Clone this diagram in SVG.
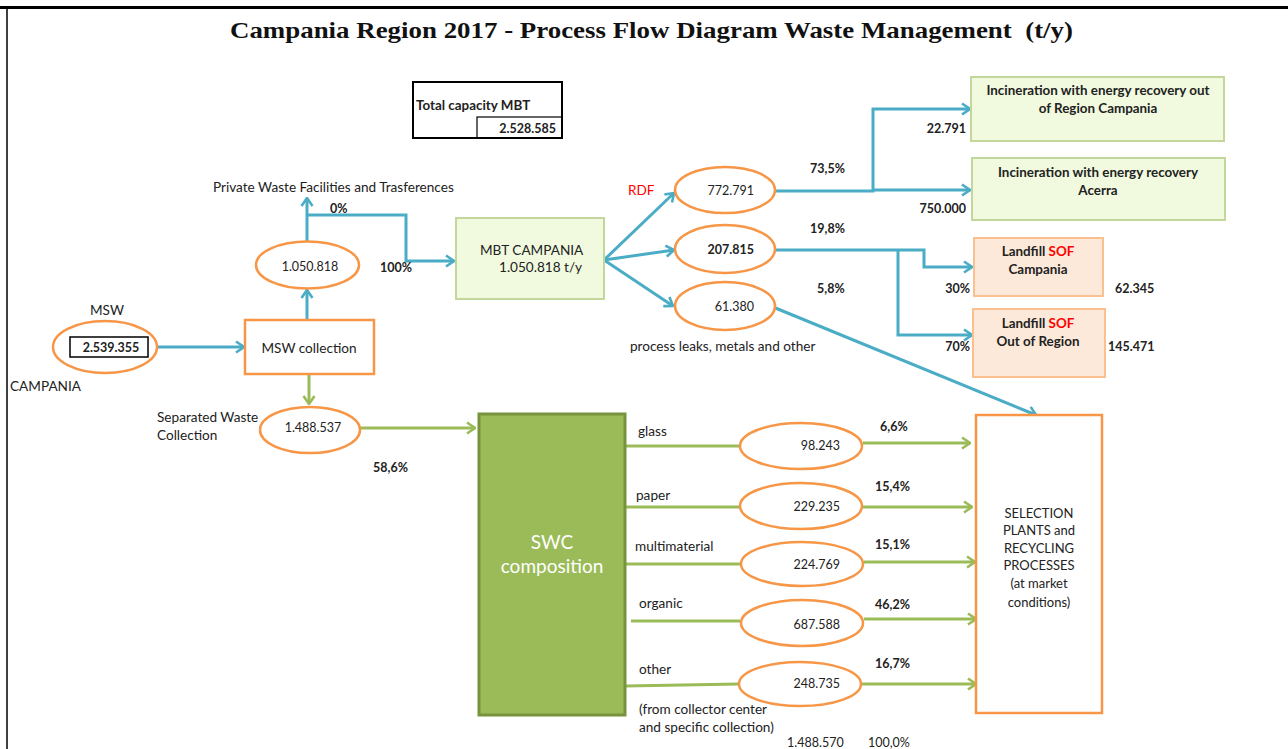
<svg xmlns="http://www.w3.org/2000/svg" width="1288" height="749" viewBox="0 0 1288 749">
<defs>
<style>
.t{font-family:Lato,"Liberation Sans",sans-serif;font-size:13.6px;fill:#222}
.n{font-family:Lato,"Liberation Sans",sans-serif;font-size:12.5px;fill:#222}
.b{font-family:Lato,"Liberation Sans",sans-serif;font-size:12.5px;font-weight:bold;fill:#222}
.bw{font-family:Lato,"Liberation Sans",sans-serif;font-size:13.4px;font-weight:bold;fill:#222}
.s{font-family:Lato,"Liberation Sans",sans-serif;font-size:13px;fill:#222}
.c{text-anchor:middle}
.e{text-anchor:end}
.ov{fill:#fff;stroke:#f79646;stroke-width:2.5}
.bl{fill:none;stroke:#4bacc6;stroke-width:3;marker-end:url(#mb)}
.gr{fill:none;stroke:#9bbb59;stroke-width:3;marker-end:url(#mg)}
.gn{fill:none;stroke:#9bbb59;stroke-width:3}
.inc{fill:#f1fadf;stroke:#c3d69b;stroke-width:2}
.lf{fill:#fde9d9;stroke:#fac090;stroke-width:2}
.red{fill:#ff0000}
</style>
<marker id="mb" viewBox="0 0 10 14" refX="9" refY="7" markerWidth="10" markerHeight="14" markerUnits="userSpaceOnUse" orient="auto">
<path d="M1,1.5 L9,7 L1,12.5" fill="none" stroke="#4bacc6" stroke-width="2.6"/>
</marker>
<marker id="mg" viewBox="0 0 10 14" refX="9" refY="7" markerWidth="10" markerHeight="14" markerUnits="userSpaceOnUse" orient="auto">
<path d="M1,1.5 L9,7 L1,12.5" fill="none" stroke="#9bbb59" stroke-width="2.6"/>
</marker>
</defs>
<rect x="0" y="0" width="1288" height="749" fill="#fff"/>
<line x1="0" y1="7.5" x2="1288" y2="7.5" stroke="#000" stroke-width="3"/>
<line x1="7" y1="7" x2="7" y2="749" stroke="#000" stroke-width="1.5"/>
<text x="230" y="38" font-family="'Liberation Serif',serif" font-size="24" font-weight="bold" fill="#111" textLength="843" lengthAdjust="spacingAndGlyphs" xml:space="preserve">Campania Region 2017 - Process Flow Diagram Waste Management  (t/y)</text>

<g id="connectors">
<path class="bl" d="M157,347 H244"/>
<path class="bl" d="M307,320 V290"/>
<path class="bl" d="M307,241 V198"/>
<path class="bl" d="M307,215 H406 V261 H454"/>
<path class="bl" d="M604,260 L674,193"/>
<path class="bl" d="M604,260 L674,250"/>
<path class="bl" d="M604,260 L673,306"/>
<path class="bl" d="M775,191 H873 V109 H970"/>
<path class="bl" d="M873,190 H970"/>
<path class="bl" d="M775,250 H924 V267 H972"/>
<path class="bl" d="M898,250 V335 H972"/>
<path class="bl" d="M773,307 L1036,415"/>
<path class="gr" d="M309,375 V404"/>
<path class="gr" d="M360,428 H475"/>
<path class="gn" d="M625,446 H740"/>
<path class="gr" d="M863,443 H970"/>
<path class="gn" d="M625,507 H740"/>
<path class="gr" d="M863,507 H972"/>
<path class="gn" d="M625,564 H740"/>
<path class="gr" d="M864,562 H975"/>
<path class="gn" d="M631,621 H740"/>
<path class="gr" d="M864,619 H976"/>
<path class="gn" d="M625,686 L739,684"/>
<path class="gr" d="M862,684 H976"/>
</g>

<g id="capacity">
<rect x="413" y="82" width="149" height="56" fill="#fff" stroke="#000" stroke-width="2"/>
<rect x="477" y="117" width="85" height="21" fill="none" stroke="#000" stroke-width="1.2"/>
<text class="bw" x="416" y="110">Total capacity MBT</text>
<text class="b e" x="556" y="133">2.528.585</text>
</g>

<g id="msw">
<ellipse class="ov" cx="105" cy="347" rx="52" ry="26"/>
<rect x="70" y="337" width="78" height="20" fill="#fff" stroke="#000" stroke-width="1.5"/>
<text class="b c" x="111" y="352">2.539.355</text>
<text class="t c" x="107" y="315">MSW</text>
<text class="t" x="10" y="391">CAMPANIA</text>
</g>

<g id="msw-collection">
<rect x="245" y="320" width="129" height="54" fill="#fff" stroke="#f79646" stroke-width="2.5"/>
<text class="t c" x="309" y="353">MSW collection</text>
</g>

<g id="residual">
<ellipse class="ov" cx="307.5" cy="265" rx="51.5" ry="23.5"/>
<text class="n c" x="310" y="271">1.050.818</text>
</g>

<g id="private">
<text class="t" x="213" y="192">Private Waste Facilities and Trasferences</text>
<text class="b" x="330" y="213">0%</text>
<text class="b" x="380" y="272">100%</text>
</g>

<g id="mbt">
<rect x="456" y="218" width="148" height="81" fill="#f1fadf" stroke="#c3d69b" stroke-width="2"/>
<text class="t" x="480" y="255">MBT CAMPANIA</text>
<text class="t" x="499" y="272">1.050.818 t/y</text>
</g>

<g id="rdf">
<ellipse class="ov" cx="725" cy="190" rx="50" ry="23"/>
<text class="n e" x="754" y="195">772.791</text>
<text x="628" y="195" font-family="Lato,'Liberation Sans',sans-serif" font-size="13.6" fill="#ff0000">RDF</text>
<text class="b" x="810" y="173">73,5%</text>
</g>

<g id="sof">
<ellipse class="ov" cx="725" cy="249" rx="50" ry="24"/>
<text class="b e" x="754" y="254">207.815</text>
<text class="b" x="810" y="233">19,8%</text>
</g>

<g id="leaks">
<ellipse class="ov" cx="725" cy="306" rx="50" ry="24"/>
<text class="n e" x="754" y="311">61.380</text>
<text class="b" x="817" y="293">5,8%</text>
<text class="t" x="630" y="351">process leaks, metals and other</text>
</g>

<g id="inc-out">
<rect class="inc" x="971" y="77" width="253" height="64"/>
<text class="bw c" x="1098" y="95">Incineration with energy recovery out</text>
<text class="bw c" x="1098" y="113">of Region Campania</text>
<text class="b e" x="966" y="133">22.791</text>
</g>

<g id="inc-acerra">
<rect class="inc" x="972" y="158" width="253" height="62"/>
<text class="bw c" x="1098" y="177">Incineration with energy recovery</text>
<text class="bw c" x="1098" y="195">Acerra</text>
<text class="b e" x="966" y="213">750.000</text>
</g>

<g id="landfill-campania">
<rect class="lf" x="974" y="238" width="129" height="58"/>
<text class="bw c" x="1038" y="256">Landfill <tspan class="red">SOF</tspan></text>
<text class="bw c" x="1038" y="274">Campania</text>
<text class="b e" x="970" y="293">30%</text>
<text class="b" x="1115" y="293">62.345</text>
</g>

<g id="landfill-out">
<rect class="lf" x="973" y="309" width="132" height="68"/>
<text class="bw c" x="1038" y="328">Landfill <tspan class="red">SOF</tspan></text>
<text class="bw c" x="1038" y="346">Out of Region</text>
<text class="b e" x="970" y="351">70%</text>
<text class="b" x="1108" y="351">145.471</text>
</g>

<g id="separated">
<ellipse class="ov" cx="310" cy="430" rx="50" ry="23"/>
<text class="n c" x="313" y="432">1.488.537</text>
<text class="t" x="157" y="422">Separated Waste</text>
<text class="t" x="157" y="440">Collection</text>
<text class="b" x="373" y="472">58,6%</text>
</g>

<g id="swc">
<rect x="479" y="414" width="146" height="301" fill="#9bbb59" stroke="#77933c" stroke-width="3"/>
<text x="552" y="549" font-family="Lato,'Liberation Sans',sans-serif" font-size="19" fill="#fff" text-anchor="middle">SWC</text>
<text x="552" y="573" font-family="Lato,'Liberation Sans',sans-serif" font-size="19" fill="#fff" text-anchor="middle">composition</text>
</g>

<g id="glass">
<text class="t" x="638" y="436">glass</text>
<ellipse class="ov" cx="801" cy="446" rx="61" ry="23"/>
<text class="n e" x="840" y="450">98.243</text>
<text class="b" x="880" y="431">6,6%</text>
</g>

<g id="paper">
<text class="t" x="636" y="500">paper</text>
<ellipse class="ov" cx="801" cy="506" rx="61" ry="23"/>
<text class="n e" x="840" y="511">229.235</text>
<text class="b" x="875" y="491">15,4%</text>
</g>

<g id="multimaterial">
<text class="t" x="635" y="551">multimaterial</text>
<ellipse class="ov" cx="802" cy="564" rx="61" ry="22"/>
<text class="n e" x="840" y="569">224.769</text>
<text class="b" x="875" y="549">15,1%</text>
</g>

<g id="organic">
<text class="t" x="639" y="608">organic</text>
<ellipse class="ov" cx="802" cy="623" rx="61" ry="23"/>
<text class="n e" x="840" y="629">687.588</text>
<text class="b" x="875" y="609">46,2%</text>
</g>

<g id="other">
<text class="t" x="639" y="674">other</text>
<ellipse class="ov" cx="800" cy="684" rx="61" ry="22"/>
<text class="n e" x="840" y="688">248.735</text>
<text class="b" x="875" y="668">16,7%</text>
<text class="t" x="639" y="714">(from collector center</text>
<text class="t" x="639" y="732">and specific collection)</text>
<text class="n" x="787" y="747">1.488.570</text>
<text class="n" x="868" y="747">100,0%</text>
</g>

<g id="selection">
<rect x="976" y="415" width="126" height="298" fill="#fff" stroke="#f79646" stroke-width="2.5"/>
<text class="s c" x="1039" y="518">SELECTION</text>
<text class="s c" x="1039" y="535">PLANTS and</text>
<text class="s c" x="1039" y="553">RECYCLING</text>
<text class="s c" x="1039" y="570">PROCESSES</text>
<text class="s c" x="1039" y="588">(at market</text>
<text class="s c" x="1039" y="607">conditions)</text>
</g>
</svg>
